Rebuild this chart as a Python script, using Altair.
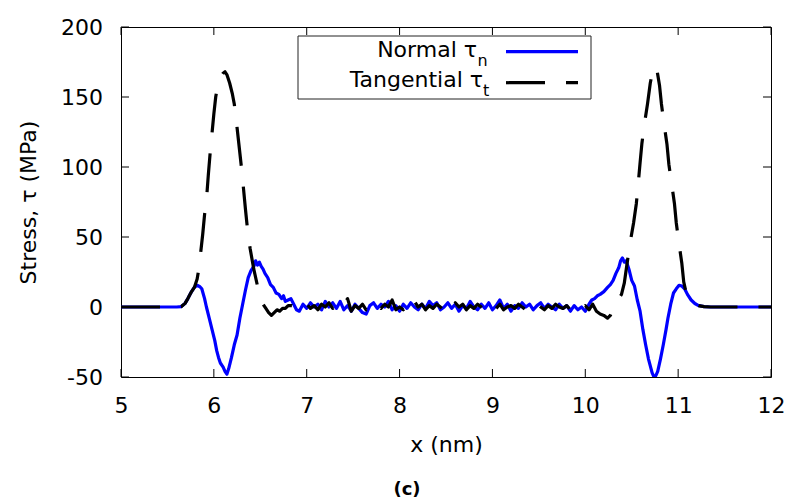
import altair as alt
import pandas as pd

# ---------------- data ----------------
X_TICKS = [5, 6, 7, 8, 9, 10, 11, 12]
Y_TICKS = [-50, 0, 50, 100, 150, 200]

MID_X = [6.96, 7.00, 7.04, 7.08, 7.12, 7.16, 7.20, 7.24, 7.28, 7.32,
         7.36, 7.40, 7.44, 7.48, 7.52, 7.56, 7.60, 7.64, 7.68, 7.72,
         7.76, 7.80, 7.84, 7.88, 7.92, 7.96, 8.00, 8.04, 8.08, 8.12,
         8.16, 8.20, 8.24, 8.28, 8.32, 8.36, 8.40, 8.44, 8.48, 8.52,
         8.56, 8.60, 8.64, 8.68, 8.72, 8.76, 8.80, 8.84, 8.88, 8.92,
         8.96, 9.00, 9.04, 9.08, 9.12, 9.16, 9.20, 9.24, 9.28, 9.32,
         9.36, 9.40, 9.44, 9.48, 9.52, 9.56, 9.60, 9.64, 9.68, 9.72,
         9.76, 9.80, 9.84, 9.88, 9.92, 9.96, 10.00]

NORMAL_LEFT_X = [5.0, 5.3, 5.5, 5.6, 5.65, 5.69, 5.72, 5.76, 5.79, 5.82,
                 5.85, 5.87, 5.90, 5.92, 5.95, 5.98, 6.01, 6.03, 6.05, 6.07,
                 6.10, 6.12, 6.14, 6.16, 6.19, 6.22, 6.25, 6.28, 6.31, 6.34,
                 6.37, 6.40, 6.43, 6.45, 6.47, 6.49, 6.51, 6.53, 6.55, 6.58,
                 6.61, 6.64, 6.67, 6.70, 6.73, 6.75, 6.77, 6.80, 6.83, 6.86,
                 6.89, 6.92]
NORMAL_LEFT_Y = [0, 0, 0, 0, 0.3, 2.6, 6, 11, 14, 15.5,
                 14.5, 13, 6, 0, -8, -16, -24, -31, -36, -40,
                 -43, -46, -48, -44, -36, -27, -20, -8, 2, 12,
                 21, 26, 29, 33, 30, 32, 29, 27, 24, 21,
                 16, 14, 10, 9, 6, 8, 4, 5, 6, 2,
                 -2, -3]
NORMAL_MID_Y = [2, -1, 3, 0, 2, -2, 4, 0, 3, -1,
                4, -2, 1, -3, 2, -1, -4, -5, 1, 3,
                -1, 2, 0, 4, -2, 1, -3, 2, -1, 3,
                0, -2, 2, -1, 4, 1, 3, -2, 0, 3,
                -1, 2, -3, 1, -1, 4, 0, -2, 2, -1,
                3, -2, 1, 5, -1, 2, -3, 1, -1, 3,
                0, 2, -2, 1, 3, -1, 2, 0, -2, 2,
                -1, 1, -3, 1, -2, 0, -3]
NORMAL_RIGHT_X = [10.04, 10.07, 10.10, 10.13, 10.16, 10.20, 10.24, 10.27, 10.30, 10.33,
                  10.36, 10.38, 10.40, 10.42, 10.44, 10.47, 10.50, 10.53, 10.56, 10.59,
                  10.62, 10.65, 10.68, 10.70, 10.72, 10.74, 10.76, 10.78, 10.81, 10.84,
                  10.87, 10.89, 10.92, 10.95, 10.98, 11.01, 11.04, 11.07, 11.10, 11.14,
                  11.18, 11.22, 11.28, 11.35, 11.6, 12.0]
NORMAL_RIGHT_Y = [2, 5, 6, 8, 9, 11, 14, 16, 19, 24,
                  28, 33, 35, 32, 33, 27, 19, 15, 5, -3,
                  -16, -27, -37, -42, -47, -50, -49, -46, -37, -27,
                  -16, -8, 2, 10, 13, 15.5, 15, 13, 9, 5,
                  2.5, 1, 0.3, 0, 0, 0]

TANG_LEFT_X = [5.0, 5.3, 5.5, 5.6, 5.65, 5.69, 5.72, 5.76, 5.79, 5.82,
               5.84, 5.86, 5.88, 5.90, 5.92, 5.94, 5.96, 5.98, 6.00, 6.02,
               6.04, 6.07, 6.10, 6.12, 6.14, 6.17, 6.20, 6.22, 6.25, 6.28,
               6.30, 6.32, 6.34, 6.36, 6.39, 6.43, 6.47, 6.50, 6.53, 6.56,
               6.59, 6.62, 6.65, 6.68, 6.71, 6.74, 6.77, 6.80, 6.84, 6.88,
               6.92]
TANG_LEFT_Y = [0, 0, 0, 0, 0.3, 2.6, 6, 11, 14, 20,
               28, 40, 52, 66, 76, 94, 110, 124, 138, 150,
               158, 164, 167, 168, 166, 160, 152, 145, 128, 110,
               98, 84, 70, 57, 42, 27, 15, 8, 2, -1,
               -4, -6, -4, -2, -3, -1, -1, 1, 1, -1,
               2]
TANG_MID_Y = [0, 2, -1, 1, -2, 2, 0, 3, -1, 1,
              -2, 2, 6, -3, 1, -1, 2, -2, 0, -3,
              1, -1, 2, 0, 5, -2, 0, -2, 2, -1,
              4, 0, 2, -2, 1, -1, 2, 0, -3, 1,
              -1, 3, 0, 2, -2, 1, -1, 2, 0, -2,
              1, 3, -1, 2, -2, 0, 1, -1, 2, 0,
              -2, 1, -1, 2, 0, -2, 1, -1, 2, 0,
              -1, 1, -2, 2, 0, -1, 1]
TANG_RIGHT_X = [10.04, 10.08, 10.12, 10.16, 10.20, 10.24, 10.27, 10.30, 10.33, 10.36,
                10.39, 10.42, 10.45, 10.48, 10.52, 10.55, 10.57, 10.59, 10.61, 10.64,
                10.67, 10.70, 10.73, 10.75, 10.77, 10.80, 10.82, 10.85, 10.88, 10.90,
                10.93, 10.96, 10.98, 11.01, 11.04, 11.06, 11.08, 11.10, 11.14, 11.18,
                11.22, 11.28, 11.35, 11.6, 12.0]
TANG_RIGHT_Y = [-2, 2, -3, -5, -6, -8, -6, -1, 3, 6,
                9, 17, 31, 45, 60, 74, 88, 103, 117, 132,
                145, 160, 170, 172, 170, 158, 145, 130, 116, 102,
                88, 74, 60, 45, 31, 18, 12, 9, 5, 2.5,
                1, 0.3, 0, 0, 0]

normal_df = pd.DataFrame({"x": NORMAL_LEFT_X + MID_X + NORMAL_RIGHT_X,
                          "stress": NORMAL_LEFT_Y + NORMAL_MID_Y + NORMAL_RIGHT_Y})
tang_df = pd.DataFrame({"x": TANG_LEFT_X + MID_X + TANG_RIGHT_X,
                        "stress": TANG_LEFT_Y + TANG_MID_Y + TANG_RIGHT_Y})

# ---------------- chart ----------------
W, H = 650, 350
FONT = "DejaVu Sans"
LW = 3.2
xscale = alt.Scale(domain=[5, 12], nice=False, zero=False)
yscale = alt.Scale(domain=[-50, 200], nice=False, zero=False)

xaxis = alt.Axis(values=X_TICKS, title="x (nm)", labelExpr="'' + datum.value",
                 labelFlush=False, labelOverlap=False, ticks=False, domain=False,
                 grid=False, labelPadding=18, labelFontSize=22, titleFontSize=22,
                 titleFontWeight="normal", titleX=W / 2, titleY=74,
                 titleBaseline="alphabetic", titleAlign="center")
yaxis = alt.Axis(values=Y_TICKS, title="Stress, τ (MPa)", labelExpr="'' + datum.value",
                 labelFlush=False, labelOverlap=False, ticks=False, domain=False,
                 grid=False, labelPadding=18.5, labelFontSize=22, titleFontSize=22,
                 titleFontWeight="normal", titleX=-86, titleY=H / 2, titleAngle=270,
                 titleBaseline="alphabetic", titleAlign="center")

X_ENC = alt.X("x:Q", scale=xscale, axis=xaxis)
Y_ENC = alt.Y("stress:Q", scale=yscale, axis=yaxis)

normal = alt.Chart(normal_df).mark_line(
    color="#0000ff", strokeWidth=LW, clip=True, strokeJoin="round"
).encode(x=X_ENC, y=Y_ENC)
tang = alt.Chart(tang_df).mark_line(
    color="black", strokeWidth=LW, strokeDash=[39, 21], clip=True, strokeJoin="round"
).encode(x=X_ENC, y=Y_ENC)

xt = pd.DataFrame({"x": X_TICKS})
yt = pd.DataFrame({"stress": Y_TICKS})
TL = 8
tick_b = alt.Chart(xt).mark_rule(color="black", strokeWidth=1).encode(
    x=X_ENC, y=alt.value(H), y2=alt.value(H - TL))
tick_t = alt.Chart(xt).mark_rule(color="black", strokeWidth=1).encode(
    x=X_ENC, y=alt.value(0), y2=alt.value(TL))
tick_l = alt.Chart(yt).mark_rule(color="black", strokeWidth=1).encode(
    y=Y_ENC, x=alt.value(0), x2=alt.value(TL))
tick_r = alt.Chart(yt).mark_rule(color="black", strokeWidth=1).encode(
    y=Y_ENC, x=alt.value(W), x2=alt.value(W - TL))

one = pd.DataFrame({"a": [0]})
LEG_FS = 22
leg_box = alt.Chart(one).mark_rect(fill="white", stroke="#222222", strokeWidth=1).encode(
    x=alt.value(177), x2=alt.value(470), y=alt.value(9), y2=alt.value(72))
leg_t1 = alt.Chart(one).mark_text(text="Normal τ", align="right", baseline="alphabetic",
                                  font=FONT, fontSize=LEG_FS, color="black").encode(
    x=alt.value(356), y=alt.value(30))
leg_s1 = alt.Chart(one).mark_text(text="n", align="left", baseline="alphabetic",
                                  font=FONT, fontSize=16, color="black").encode(
    x=alt.value(356.5), y=alt.value(39))
leg_t2 = alt.Chart(one).mark_text(text="Tangential τ", align="right", baseline="alphabetic",
                                  font=FONT, fontSize=LEG_FS, color="black").encode(
    x=alt.value(362), y=alt.value(60))
leg_s2 = alt.Chart(one).mark_text(text="t", align="left", baseline="alphabetic",
                                  font=FONT, fontSize=16, color="black").encode(
    x=alt.value(362), y=alt.value(69))
leg_l1 = alt.Chart(one).mark_rule(color="#0000ff", strokeWidth=LW).encode(
    x=alt.value(385), x2=alt.value(457), y=alt.value(24.7))
leg_l2 = alt.Chart(one).mark_rule(color="black", strokeWidth=LW, strokeDash=[39, 21]).encode(
    x=alt.value(385), x2=alt.value(457), y=alt.value(55.7))

caption = alt.Chart(one).mark_text(text="(c)", align="center", baseline="alphabetic",
                                   font=FONT, fontSize=18, fontWeight="bold",
                                   color="black").encode(
    x=alt.value(286), y=alt.value(468))

chart = alt.layer(
    normal, tang, tick_b, tick_t, tick_l, tick_r,
    leg_box, leg_t1, leg_s1, leg_t2, leg_s2, leg_l1, leg_l2, caption
).properties(
    width=W, height=H,
    padding={"left": 121, "top": 27, "right": 22, "bottom": 125},
    autosize=alt.AutoSizeParams(type="none"),
).configure(
    font=FONT
).configure_view(
    stroke="black", strokeWidth=1
).configure_axis(
    labelFont=FONT, titleFont=FONT, labelColor="black", titleColor="black"
)

chart.save("out.html", embed_options={"renderer": "svg", "actions": False})
